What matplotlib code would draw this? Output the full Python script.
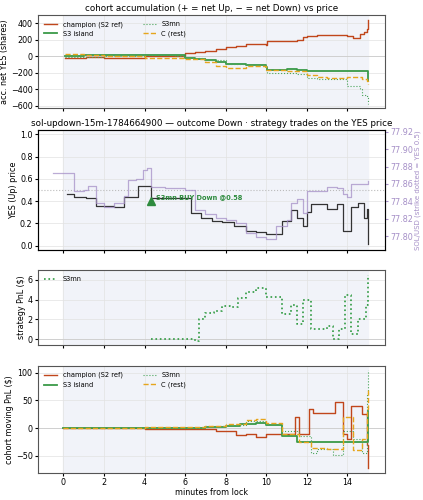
import matplotlib
matplotlib.use('Agg')
import matplotlib.pyplot as plt
import numpy as np

# panel 1: accumulated net YES (shares)
acc_champ_t = [0.1, 1.1, 2.0, 4.0, 5.5, 6.0, 6.5, 7.0, 7.5, 8.0, 8.5, 9.0, 9.5, 10.0, 10.05, 11.0, 11.5, 11.8, 12.0, 12.5, 13.5, 14.0, 14.3, 14.6, 14.8, 14.95, 15.0]
acc_champ_v = [-25, -10, -20, 0, 0, 40, 55, 65, 90, 110, 130, 150, 145, 140, 180, 180, 200, 230, 240, 255, 255, 250, 220, 270, 300, 330, 440]
acc_isl_t = [0.1, 1.0, 2.0, 4.0, 5.5, 6.0, 6.5, 7.0, 7.5, 8.0, 9.0, 10.0, 10.05, 11.0, 11.5, 12.0, 14.9, 15.0]
acc_isl_v = [0, 10, 10, 15, 10, -15, -30, -50, -70, -90, -110, -130, -165, -150, -170, -175, -175, -300]
acc_mn_t = [0.1, 1.0, 2.0, 4.0, 5.5, 6.0, 7.0, 8.0, 9.0, 10.0, 10.05, 11.5, 12.0, 12.5, 13.0, 14.0, 14.6, 14.7, 14.95, 15.0]
acc_mn_v = [-10, -5, 5, 10, 5, -20, -50, -90, -110, -130, -200, -210, -260, -270, -280, -360, -390, -470, -480, -580]
acc_c_t = [0.1, 1.0, 2.0, 4.0, 5.5, 6.0, 7.0, 7.5, 8.0, 9.0, 10.0, 11.0, 12.0, 12.5, 13.0, 14.0, 14.7, 14.95, 15.0]
acc_c_v = [25, 20, 5, -20, -20, -30, -70, -120, -140, -120, -160, -180, -230, -250, -260, -250, -270, -300, -340]

# panel 2: YES price and SOL/USD
yes_t = [0.2, 0.5, 1.1, 1.6, 2.5, 3.0, 3.7, 4.3, 5.0, 6.0, 6.3, 6.8, 7.3, 7.8, 8.4, 9.0, 9.5, 10.0, 10.8, 11.2, 11.5, 11.8, 12.0, 12.2, 13.0, 13.5, 13.8, 14.2, 14.5, 14.8, 14.95, 15.0]
yes_v = [0.46, 0.44, 0.43, 0.36, 0.35, 0.44, 0.54, 0.43, 0.43, 0.43, 0.29, 0.25, 0.22, 0.21, 0.18, 0.13, 0.12, 0.10, 0.22, 0.32, 0.25, 0.18, 0.30, 0.37, 0.33, 0.37, 0.13, 0.35, 0.38, 0.25, 0.33, 0.01]
sol_t = [-0.5, -0.2, 0.5, 1.0, 1.2, 1.6, 2.0, 2.5, 3.0, 3.2, 3.6, 3.9, 4.1, 4.3, 5.0, 6.0, 6.5, 7.0, 7.5, 8.0, 8.5, 9.0, 9.5, 10.0, 10.5, 11.0, 11.2, 11.5, 11.8, 12.0, 12.5, 13.0, 13.5, 13.8, 14.0, 14.2, 15.0]
sol_v = [77.872, 77.872, 77.852, 77.853, 77.858, 77.838, 77.834, 77.838, 77.846, 77.865, 77.866, 77.876, 77.878, 77.856, 77.855, 77.853, 77.830, 77.825, 77.821, 77.818, 77.815, 77.804, 77.799, 77.797, 77.812, 77.818, 77.838, 77.843, 77.827, 77.852, 77.852, 77.857, 77.855, 77.848, 77.845, 77.860, 77.863]

# panel 3: S3mn strategy PnL
pnl_t = [4.3, 6.5, 6.7, 7.0, 7.4, 7.8, 8.2, 8.6, 9.0, 9.5, 10.0, 10.8, 11.2, 11.5, 11.8, 12.2, 13.0, 13.3, 13.6, 13.9, 14.2, 14.5, 14.9, 15.0]
pnl_v = [0.0, -0.2, 2.0, 2.6, 2.8, 3.4, 3.3, 4.2, 4.8, 5.2, 4.3, 2.5, 3.5, 1.5, 4.0, 1.0, 1.3, 0.0, 1.0, 4.5, 0.5, 2.0, 3.5, 6.5]

# panel 4: cohort moving PnL ($)
mp_champ_t = [0.0, 4.0, 6.0, 7.5, 8.5, 9.0, 9.5, 10.0, 10.8, 11.4, 11.6, 12.1, 12.3, 13.2, 13.4, 13.8, 14.0, 14.2, 14.7, 14.95, 15.0]
mp_champ_v = [0, -2, -2, -5, -12, -10, -16, -10, -10, 20, -10, 35, 28, 28, 48, -10, -20, 40, 25, -30, -72]
mp_isl_t = [0.0, 4.0, 7.0, 8.0, 8.7, 9.5, 10.0, 10.8, 11.5, 12.3, 14.9, 15.0]
mp_isl_v = [0, 1, 2, 4, 8, 10, 5, -15, -25, -25, -25, 30]
mp_mn_t = [0.0, 4.0, 7.0, 8.0, 9.0, 10.0, 10.8, 11.6, 12.2, 12.5, 13.3, 13.8, 14.3, 14.7, 14.95, 15.0]
mp_mn_v = [0, 1, 3, 5, 12, 8, -5, -15, -45, -38, -48, -5, -20, -45, 60, 105]
mp_c_t = [0.0, 4.0, 7.0, 8.0, 9.0, 9.5, 10.0, 10.8, 11.6, 12.2, 13.0, 13.8, 14.3, 14.7, 14.95, 15.0]
mp_c_v = [0, 2, 4, 8, 14, 16, 10, -10, -25, -35, -38, 20, -40, -20, 35, 70]

c_champ = '#c0461b'
c_isl = '#3a9a48'
c_mn = '#4aa55a'
c_c = '#e6a51c'
c_sol = '#a58fc7'
shade = '#f1f3f9'
fs = 5.8

fig = plt.figure(figsize=(4.23, 5.0), dpi=100)
ax1 = fig.add_axes([0.09, 0.785, 0.82, 0.185])
ax2 = fig.add_axes([0.09, 0.50, 0.82, 0.24])
ax3 = fig.add_axes([0.09, 0.31, 0.82, 0.15])
ax4 = fig.add_axes([0.09, 0.055, 0.82, 0.213])

for ax in (ax1, ax2, ax3, ax4):
    ax.set_xlim(-1.25, 15.85)
    ax.axvspan(0, 15, color=shade, zorder=0)
    ax.grid(True, color='#e2e2e2', lw=0.5)
    ax.set_axisbelow(True)
    ax.set_xticks(range(0, 16, 2))
    ax.tick_params(labelsize=fs, length=2.5, pad=1.5)
    for s in ax.spines.values():
        s.set_color('#555555')
for ax in (ax1, ax2, ax3):
    ax.tick_params(labelbottom=False)

# panel 1
ax1.axhline(0, color='#cccccc', lw=0.6)
ax1.plot(acc_champ_t, acc_champ_v, drawstyle='steps-post', color=c_champ, lw=1.0, label='champion (S2 ref)')
ax1.plot(acc_isl_t, acc_isl_v, drawstyle='steps-post', color=c_isl, lw=1.3, label='S3 island')
ax1.plot(acc_mn_t, acc_mn_v, drawstyle='steps-post', color=c_mn, lw=0.8, ls=':', label='S3mn')
ax1.plot(acc_c_t, acc_c_v, drawstyle='steps-post', color=c_c, lw=1.0, ls='--', label='C (rest)')
ax1.set_ylim(-620, 500)
ax1.set_yticks([-600, -400, -200, 0, 200, 400])
ax1.set_ylabel('acc. net YES (shares)', fontsize=fs, labelpad=1)
ax1.set_title('cohort accumulation (+ = net Up, − = net Down) vs price', fontsize=6.3, pad=3)
ax1.legend(loc='upper left', ncol=2, fontsize=4.8, frameon=False, columnspacing=3)

# panel 2
ax2.axhline(0.5, color='#bbbbbb', lw=0.8, ls=':')
ax2.plot(yes_t, yes_v, drawstyle='steps-post', color='#333333', lw=0.9)
ax2.plot(4.3, 0.40, marker='^', color='#2e8b3e', ms=6)
ax2.text(4.55, 0.44, 'S3mn BUY Down @0.58', fontsize=4.8, color='#2e8b3e', fontweight='bold', va='center')
ax2.set_ylim(-0.04, 1.04)
ax2.set_yticks([0.0, 0.2, 0.4, 0.6, 0.8, 1.0])
ax2.set_ylabel('YES (Up) price', fontsize=fs, labelpad=1)
ax2.set_title('sol-updown-15m-1784664900 — outcome Down · strategy trades on the YES price', fontsize=6.3, pad=3)
ax2b = ax2.twinx()
ax2b.plot(sol_t, sol_v, drawstyle='steps-post', color=c_sol, lw=0.9, alpha=0.75)
ax2b.set_ylim(77.784, 77.922)
ax2b.set_yticks([77.80, 77.82, 77.84, 77.86, 77.88, 77.90, 77.92])
ax2b.tick_params(labelsize=fs, length=2.5, pad=1.5, colors=c_sol)
ax2b.set_ylabel('SOL/USD (strike dotted = YES 0.5)', fontsize=5, color=c_sol, labelpad=1)

# panel 3
ax3.axhline(0, color='#cccccc', lw=0.6)
ax3.plot(pnl_t, pnl_v, drawstyle='steps-post', color='#2e9a40', lw=1.2, ls=':', label='S3mn')
ax3.set_ylim(-0.6, 7.0)
ax3.set_yticks([0, 2, 4, 6])
ax3.set_ylabel('strategy PnL ($)', fontsize=fs, labelpad=1)
ax3.legend(loc='upper left', fontsize=4.8, frameon=False)

# panel 4
ax4.axhline(0, color='#cccccc', lw=0.6)
ax4.plot(mp_champ_t, mp_champ_v, drawstyle='steps-post', color=c_champ, lw=1.0, label='champion (S2 ref)')
ax4.plot(mp_isl_t, mp_isl_v, drawstyle='steps-post', color=c_isl, lw=1.3, label='S3 island')
ax4.plot(mp_mn_t, mp_mn_v, drawstyle='steps-post', color=c_mn, lw=0.8, ls=':', label='S3mn')
ax4.plot(mp_c_t, mp_c_v, drawstyle='steps-post', color=c_c, lw=1.0, ls='--', label='C (rest)')
ax4.set_ylim(-80, 112)
ax4.set_yticks([-50, 0, 50, 100])
ax4.set_ylabel('cohort moving PnL ($)', fontsize=fs, labelpad=1)
ax4.set_xlabel('minutes from lock', fontsize=fs, labelpad=1)
ax4.legend(loc='upper left', ncol=2, fontsize=4.8, frameon=False, columnspacing=3)

fig.savefig('out.png', dpi=100, facecolor='white')
